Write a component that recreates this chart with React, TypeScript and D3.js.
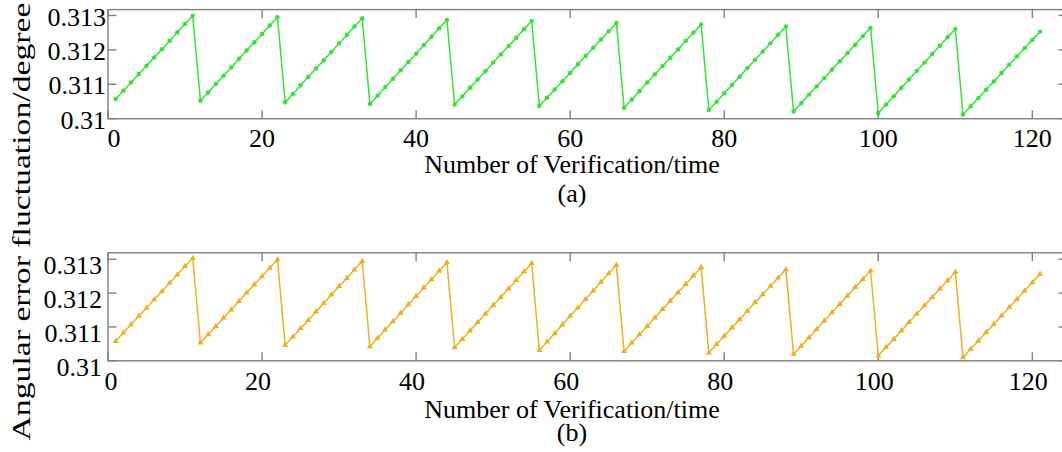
import React from "react";
import * as d3 from "d3";

// ---- data ----
const xTicks = [0, 20, 40, 60, 80, 100, 120];
const yTicks = [0.31, 0.311, 0.312, 0.313];
const yTickLabels = ["0.31", "0.311", "0.312", "0.313"];
const xAxisTitle = "Number of Verification/time";
const yAxisTitle = "Angular error fluctuation/degree";
const captions = ["(a)", "(b)"];

// angular error per verification (verification 1..121), panel (a)
const errorA = [
  0.31057, 0.31081, 0.31105, 0.3113, 0.31154, 0.31178, 0.31202, 0.31226, 0.31251, 0.31275, 0.31299,
  0.31052, 0.31076, 0.31101, 0.31125, 0.31149, 0.31174, 0.31198, 0.31222, 0.31246, 0.31271, 0.31295,
  0.31048, 0.31072, 0.31097, 0.31121, 0.31146, 0.3117, 0.31194, 0.31219, 0.31243, 0.31268, 0.31292,
  0.31043, 0.31067, 0.31092, 0.31116, 0.31141, 0.31165, 0.31189, 0.31214, 0.31238, 0.31263, 0.31287,
  0.31041, 0.31065, 0.3109, 0.31114, 0.31138, 0.31163, 0.31187, 0.31211, 0.31235, 0.3126, 0.31284,
  0.31037, 0.31061, 0.31085, 0.31109, 0.31133, 0.31158, 0.31182, 0.31206, 0.3123, 0.31254, 0.31278,
  0.31032, 0.31056, 0.3108, 0.31105, 0.31129, 0.31153, 0.31177, 0.31201, 0.31226, 0.3125, 0.31274,
  0.31025, 0.31049, 0.31074, 0.31098, 0.31122, 0.31147, 0.31171, 0.31195, 0.31219, 0.31244, 0.31268,
  0.31021, 0.31045, 0.3107, 0.31094, 0.31118, 0.31143, 0.31167, 0.31191, 0.31215, 0.3124, 0.31264,
  0.31016, 0.31041, 0.31065, 0.3109, 0.31114, 0.31139, 0.31163, 0.31188, 0.31212, 0.31237, 0.31261,
  0.31012, 0.31036, 0.3106, 0.31084, 0.31108, 0.31133, 0.31157, 0.31181, 0.31205, 0.31229, 0.31253,
];

// panel (b)
const errorB = [
  0.31058, 0.31083, 0.31107, 0.31132, 0.31156, 0.31181, 0.31205, 0.3123, 0.31254, 0.31279, 0.31303,
  0.31053, 0.31078, 0.31102, 0.31127, 0.31151, 0.31176, 0.31201, 0.31225, 0.3125, 0.31274, 0.31299,
  0.31046, 0.31071, 0.31096, 0.3112, 0.31145, 0.3117, 0.31195, 0.3122, 0.31244, 0.31269, 0.31294,
  0.31042, 0.31067, 0.31092, 0.31116, 0.31141, 0.31166, 0.31191, 0.31216, 0.3124, 0.31265, 0.3129,
  0.31039, 0.31064, 0.31089, 0.31114, 0.31139, 0.31164, 0.31188, 0.31213, 0.31238, 0.31263, 0.31288,
  0.31031, 0.31056, 0.31081, 0.31107, 0.31132, 0.31157, 0.31182, 0.31207, 0.31233, 0.31258, 0.31283,
  0.31028, 0.31053, 0.31078, 0.31102, 0.31127, 0.31152, 0.31177, 0.31202, 0.31226, 0.31251, 0.31276,
  0.31024, 0.31049, 0.31073, 0.31098, 0.31122, 0.31147, 0.31172, 0.31196, 0.31221, 0.31245, 0.3127,
  0.31019, 0.31044, 0.31068, 0.31093, 0.31118, 0.31143, 0.31167, 0.31192, 0.31217, 0.31241, 0.31266,
  0.31015, 0.3104, 0.31064, 0.31089, 0.31114, 0.31139, 0.31163, 0.31188, 0.31213, 0.31237, 0.31262,
  0.3101, 0.31035, 0.31059, 0.31084, 0.31108, 0.31133, 0.31158, 0.31182, 0.31207, 0.31231, 0.31256,
];

// ---- layout / style ----
const W = 1062;
const H = 452;
const FONT = "'Liberation Serif', 'Times New Roman', serif";
const AXIS = "#808080";
const TICK = 8.5;

const x = d3.scaleLinear().domain([0, 124.5]).range([108, 1067]);

const panels = [
  {
    data: errorA,
    yMax: 0.31317,
    top: 9.6,
    bottom: 118.7,
    color: "#33e333",
    marker: "circle",
    yLabelDy: 1,
    yLabelRight: 106,
    xLabelDx: 0,
    zeroDx: 6,
    tickBase: 146.5,
    titleBase: 173,
    captionBase: 202,
    caption: captions[0],
  },
  {
    data: errorB,
    yMax: 0.31319,
    top: 252.8,
    bottom: 360.8,
    color: "#edb120",
    marker: "triangle",
    yLabelDy: 6,
    yLabelRight: 102,
    xLabelDx: -4,
    zeroDx: 3,
    tickBase: 389.5,
    titleBase: 418,
    captionBase: 441,
    caption: captions[1],
  },
];

function Panel({ p }: { p: (typeof panels)[number] }) {
  const y = d3.scaleLinear().domain([0.31, p.yMax]).range([p.bottom, p.top]);
  const pts = p.data.map((v, i) => [x(i + 1), y(v)] as [number, number]);
  const line = d3.line()(pts) || "";
  const tri = d3.symbol().type(d3.symbolTriangle).size(16)() || "";
  const x0 = x.range()[0];
  const x1 = x.range()[1];
  return (
    <g>
      <rect
        x={x0}
        y={p.top}
        width={x1 - x0}
        height={p.bottom - p.top}
        fill="none"
        stroke={AXIS}
        strokeWidth={1.4}
      />
      {xTicks.map((t) => (
        <g key={"xt" + t}>
          <line x1={x(t)} x2={x(t)} y1={p.bottom} y2={p.bottom - TICK} stroke={AXIS} strokeWidth={1.4} />
          <line x1={x(t)} x2={x(t)} y1={p.top} y2={p.top + TICK} stroke={AXIS} strokeWidth={1.4} />
          <text
            x={x(t) + (t === 0 ? p.zeroDx : p.xLabelDx)}
            y={p.tickBase}
            textAnchor="middle"
            fontFamily={FONT}
            fontSize={26}
            fill="#000"
          >
            {t}
          </text>
        </g>
      ))}
      {yTicks.map((t, i) => (
        <g key={"yt" + t}>
          <line x1={x0} x2={x0 + TICK} y1={y(t)} y2={y(t)} stroke={AXIS} strokeWidth={1.4} />
          <line x1={x1} x2={x1 - TICK} y1={y(t)} y2={y(t)} stroke={AXIS} strokeWidth={1.4} />
          <text
            x={p.yLabelRight}
            y={y(t) + p.yLabelDy}
            dy="0.35em"
            textAnchor="end"
            fontFamily={FONT}
            fontSize={26}
            fill="#000"
          >
            {yTickLabels[i]}
          </text>
        </g>
      ))}
      <path d={line} fill="none" stroke={p.color} strokeWidth={1.5} />
      {pts.map(([px, py], i) =>
        p.marker === "circle" ? (
          <circle key={i} cx={px} cy={py} r={2.2} fill={p.color} />
        ) : (
          <path key={i} d={tri} transform={`translate(${px},${py})`} fill={p.color} />
        )
      )}
      <text x={572} y={p.titleBase} textAnchor="middle" fontFamily={FONT} fontSize={26} fill="#000">
        {xAxisTitle}
      </text>
      <text x={572} y={p.captionBase} textAnchor="middle" fontFamily={FONT} fontSize={26} fill="#000">
        {p.caption}
      </text>
    </g>
  );
}

export default function App() {
  return (
    <svg
      width={W}
      height={H}
      viewBox={`0 0 ${W} ${H}`}
      style={{ position: "absolute", left: 0, top: 0, background: "#fff" }}
    >
      <rect x={0} y={0} width={W} height={H} fill="#fff" />
      {panels.map((p, i) => (
        <Panel key={i} p={p} />
      ))}
      <text
        transform={`translate(29.5,221.5) rotate(-90)`}
        textAnchor="middle"
        fontFamily={FONT}
        fontSize={26}
        textLength={438}
        lengthAdjust="spacingAndGlyphs"
        fill="#000"
      >
        {yAxisTitle}
      </text>
    </svg>
  );
}
